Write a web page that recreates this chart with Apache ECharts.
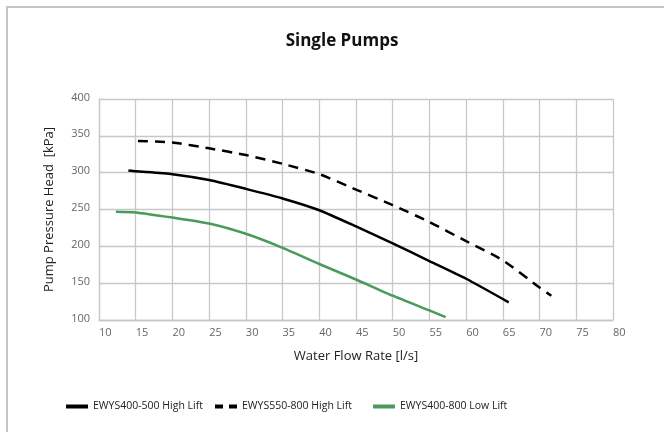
<!DOCTYPE html>
<html lang="en">
<head>
  <meta charset="utf-8">
  <title>Single Pumps</title>
  <script type="text/javascript" src="https://fastly.jsdelivr.net/npm/echarts@6/dist/echarts.min.js"></script>
  <style type="text/css">
    * {
      margin: 0;
      padding: 0;
    }
    html, body, #chart {
      width: 100%;
      height: 100%;
      overflow: hidden;
      background: #fff;
    }
  </style>
</head>
<body>
  <div id="chart"></div>
  <script type="text/javascript">
    // flow rate [l/s] and pressure head [kPa]
    var seriesNames = ['EWYS400-500 High Lift', 'EWYS550-800 High Lift', 'EWYS400-800 Low Lift'];

    var flow400500 = [14, 15, 20, 25, 30, 35, 40, 45, 50, 55, 60, 65.8];
    var head400500 = [303, 302, 298, 290, 278, 265, 249, 227, 204, 180, 156, 124];

    var flow550800 = [15.3, 20, 25, 30, 35, 40, 45, 50, 55, 60, 65, 70, 71.6];
    var head550800 = [343, 341, 333, 324, 312, 298, 277, 256, 233, 207, 181, 144, 133];

    var flowLow = [12.3, 15, 20, 25, 30, 35, 40, 45, 50, 55, 57.2];
    var headLow = [247, 246, 239, 231, 217, 198, 176, 155, 133, 113, 104];

    function pairs(xs, ys) {
      return xs.map(function (x, i) { return [x, ys[i]]; });
    }

    var font = '"Open Sans", "Noto Sans", sans-serif';
    var gridColor = '#c8c8c8';

    // one legend per series so each sits where the reference puts it
    function legendAt(left, name, icon) {
      return {
        left: left,
        top: 396,
        itemWidth: 22,
        itemHeight: 4,
        itemGap: 6,
        icon: icon,
        textStyle: { fontFamily: font, fontSize: 10.5, color: '#222' },
        data: [name]
      };
    }

    var option = {
      animation: false,
      backgroundColor: '#fff',
      textStyle: { fontFamily: font },
      graphic: [{
        type: 'rect',
        shape: { x: 7, y: 7, width: 700, height: 500 },
        style: { fill: 'none', stroke: '#c4c4c4', lineWidth: 2 }
      }],
      title: {
        text: 'Single Pumps',
        left: 337,
        textAlign: 'center',
        top: 28,
        textStyle: { fontFamily: font, fontSize: 17, fontWeight: 'bold', color: '#111' }
      },
      legend: [
        legendAt(61, seriesNames[0], 'rect'),
        legendAt(210, seriesNames[1], 'path://M0,0H8V4H0Z M14,0H22V4H14Z'),
        legendAt(368, seriesNames[2], 'rect')
      ],
      grid: { left: 99, top: 99, right: 51, bottom: 112 },
      xAxis: {
        type: 'value',
        min: 10,
        max: 80,
        interval: 5,
        name: 'Water Flow Rate [l/s]',
        nameLocation: 'middle',
        nameGap: 30,
        nameTextStyle: { fontFamily: font, fontSize: 13, color: '#222' },
        axisLine: { show: true, lineStyle: { color: gridColor, width: 1.3 } },
        axisTick: { show: false },
        axisLabel: { color: '#666', fontSize: 11, margin: 7, align: 'left' },
        splitLine: { show: true, lineStyle: { color: gridColor, width: 1.3 } }
      },
      yAxis: {
        type: 'value',
        min: 100,
        max: 400,
        interval: 50,
        name: 'Pump Pressure Head  [kPa]',
        nameLocation: 'middle',
        nameGap: 43,
        nameTextStyle: { fontFamily: font, fontSize: 13, color: '#222' },
        axisLine: { show: true, lineStyle: { color: gridColor, width: 1.3 } },
        axisTick: { show: false },
        axisLabel: { color: '#666', fontSize: 11, margin: 9, verticalAlign: 'bottom', padding: [0, 0, -4, 0] },
        splitLine: { show: true, lineStyle: { color: gridColor, width: 1.3 } }
      },
      series: [{
        name: seriesNames[0],
        type: 'line',
        smooth: 0.2,
        symbol: 'none',
        color: '#000',
        lineStyle: { width: 2.5, color: '#000' },
        data: pairs(flow400500, head400500)
      }, {
        name: seriesNames[1],
        type: 'line',
        smooth: 0.2,
        symbol: 'none',
        color: '#000',
        lineStyle: { width: 2.5, color: '#000', type: [10, 7] },
        data: pairs(flow550800, head550800)
      }, {
        name: seriesNames[2],
        type: 'line',
        smooth: 0.2,
        symbol: 'none',
        color: '#4a9a5b',
        lineStyle: { width: 2.5, color: '#4a9a5b' },
        data: pairs(flowLow, headLow)
      }]
    };

    var chart = echarts.init(document.getElementById('chart'));
    chart.setOption(option);
  </script>
</body>
</html>
